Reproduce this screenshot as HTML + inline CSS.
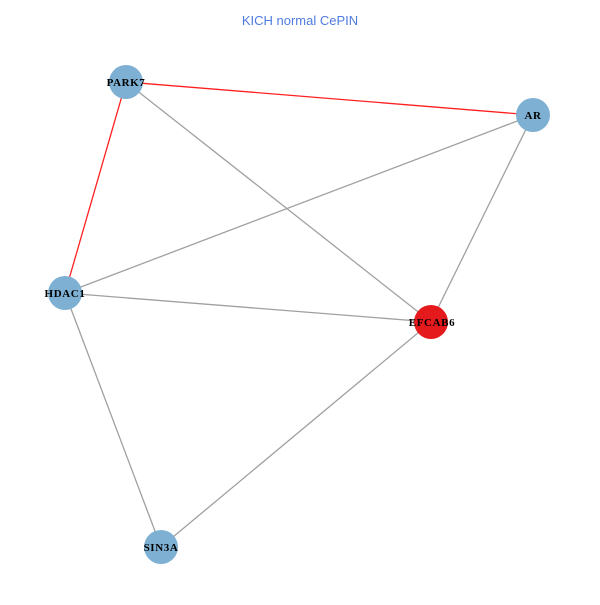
<!DOCTYPE html>
<html><head><style>body{margin:0;background:#fff}</style></head><body>
<svg width="600" height="600" xmlns="http://www.w3.org/2000/svg">
<rect width="600" height="600" fill="#fff"/>
<text x="300" y="25" text-anchor="middle" font-family="Liberation Sans, sans-serif" font-size="13" fill="#4f7be0">KICH normal CePIN</text>
<g stroke="#a0a0a0" stroke-width="1.3">
<line x1="126" y1="82" x2="431" y2="322"/>
<line x1="533" y1="115" x2="65" y2="293"/>
<line x1="533" y1="115" x2="431" y2="322"/>
<line x1="65" y1="293" x2="431" y2="322"/>
<line x1="65" y1="293" x2="161" y2="547"/>
<line x1="431" y1="322" x2="161" y2="547"/>
</g>
<g stroke="#ff2020" stroke-width="1.3">
<line x1="126" y1="82" x2="533" y2="115"/>
<line x1="126" y1="82" x2="65" y2="293"/>
</g>
<g fill="#7eb0d3">
<circle cx="126" cy="82" r="17"/>
<circle cx="533" cy="115" r="17"/>
<circle cx="65" cy="293" r="17"/>
<circle cx="161" cy="547" r="17"/>
</g>
<circle cx="431" cy="322" r="17" fill="#e41a1c"/>
<g font-family="Liberation Serif, serif" font-weight="bold" font-size="11" letter-spacing="0.6" text-anchor="middle" fill="#000">
<text x="126" y="86">PARK7</text>
<text x="533" y="119">AR</text>
<text x="65" y="297">HDAC1</text>
<text x="432" y="326">EFCAB6</text>
<text x="161" y="551">SIN3A</text>
</g>
</svg>
</body></html>
